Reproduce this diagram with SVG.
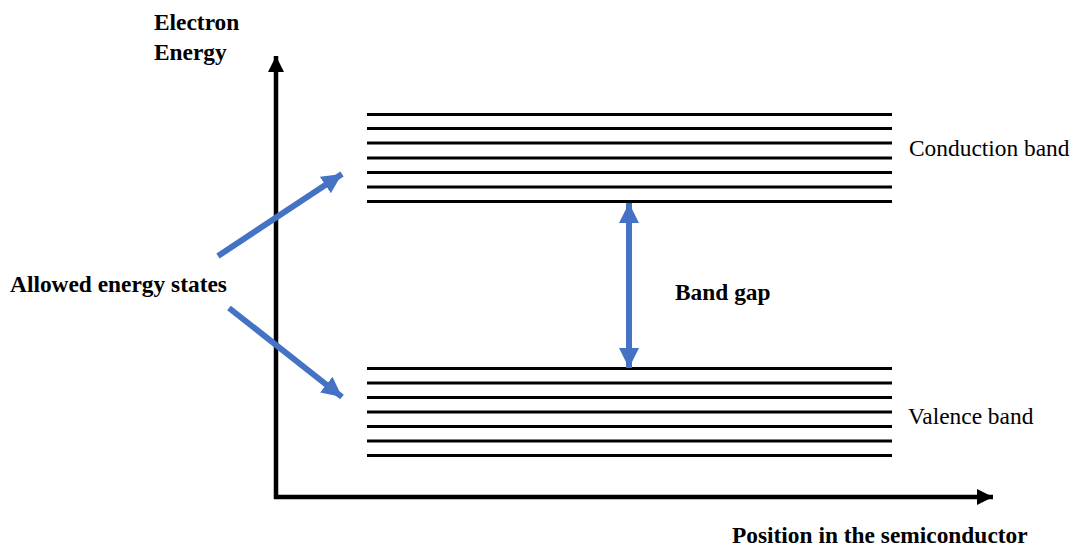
<svg xmlns="http://www.w3.org/2000/svg" width="1075" height="548" viewBox="0 0 1075 548">
  <style>
    .lbl { font-family: "Liberation Serif", "Times New Roman", serif; font-size: 23.4px; fill: #000; }
    .b { font-weight: bold; }
    .level { stroke: #000; stroke-width: 3; }
    .axis { stroke: #000; stroke-width: 4.5; fill: none; }
    .blue { stroke: #4472C4; stroke-width: 6; fill: none; }
  </style>
  <defs>
    <marker id="axisHead" markerUnits="userSpaceOnUse" markerWidth="18" markerHeight="18" refX="16" refY="8" orient="auto">
      <path d="M0,0 L16,8 L0,16 Z" fill="#000"/>
    </marker>
    <marker id="blueHead" markerUnits="userSpaceOnUse" markerWidth="24" markerHeight="24" refX="20" refY="10" orient="auto-start-reverse">
      <path d="M0,0 L20,10 L0,20 Z" fill="#4472C4"/>
    </marker>
  </defs>

  <!-- axes -->
  <g id="axes">
    <line class="axis" x1="276" y1="499" x2="276" y2="56" marker-end="url(#axisHead)"/>
    <line class="axis" x1="274" y1="497" x2="993" y2="497" marker-end="url(#axisHead)"/>
  </g>

  <!-- conduction band levels -->
  <g id="conduction-band">
    <line class="level" x1="367" y1="114.5" x2="892" y2="114.5"/>
    <line class="level" x1="367" y1="128.5" x2="892" y2="128.5"/>
    <line class="level" x1="367" y1="143" x2="892" y2="143"/>
    <line class="level" x1="367" y1="158" x2="892" y2="158"/>
    <line class="level" x1="367" y1="172.5" x2="892" y2="172.5"/>
    <line class="level" x1="367" y1="187" x2="892" y2="187"/>
    <line class="level" x1="367" y1="201.5" x2="892" y2="201.5"/>
    <text class="lbl" x="909" y="156">Conduction band</text>
  </g>

  <!-- valence band levels -->
  <g id="valence-band">
    <line class="level" x1="367" y1="368.5" x2="892" y2="368.5"/>
    <line class="level" x1="367" y1="383" x2="892" y2="383"/>
    <line class="level" x1="367" y1="397.5" x2="892" y2="397.5"/>
    <line class="level" x1="367" y1="412" x2="892" y2="412"/>
    <line class="level" x1="367" y1="426.5" x2="892" y2="426.5"/>
    <line class="level" x1="367" y1="441" x2="892" y2="441"/>
    <line class="level" x1="367" y1="455.5" x2="892" y2="455.5"/>
    <text class="lbl" x="908" y="424">Valence band</text>
  </g>

  <!-- labels -->
  <g id="y-label">
    <text class="lbl b" x="154" y="30">Electron</text>
    <text class="lbl b" x="154" y="60">Energy</text>
  </g>
  <g id="x-label">
    <text class="lbl b" x="732" y="543">Position in the semiconductor</text>
  </g>
  <g id="states-label">
    <text class="lbl b" x="10" y="292">Allowed energy states</text>
  </g>
  <g id="gap-label">
    <text class="lbl b" x="675" y="300">Band gap</text>
  </g>

  <!-- pointers -->
  <g id="connectors">
    <line class="blue" x1="218" y1="256" x2="342" y2="174" marker-end="url(#blueHead)"/>
    <line class="blue" x1="229" y1="308" x2="342" y2="397" marker-end="url(#blueHead)"/>
    <line class="blue" x1="629" y1="203" x2="629" y2="368" marker-start="url(#blueHead)" marker-end="url(#blueHead)"/>
  </g>
</svg>
